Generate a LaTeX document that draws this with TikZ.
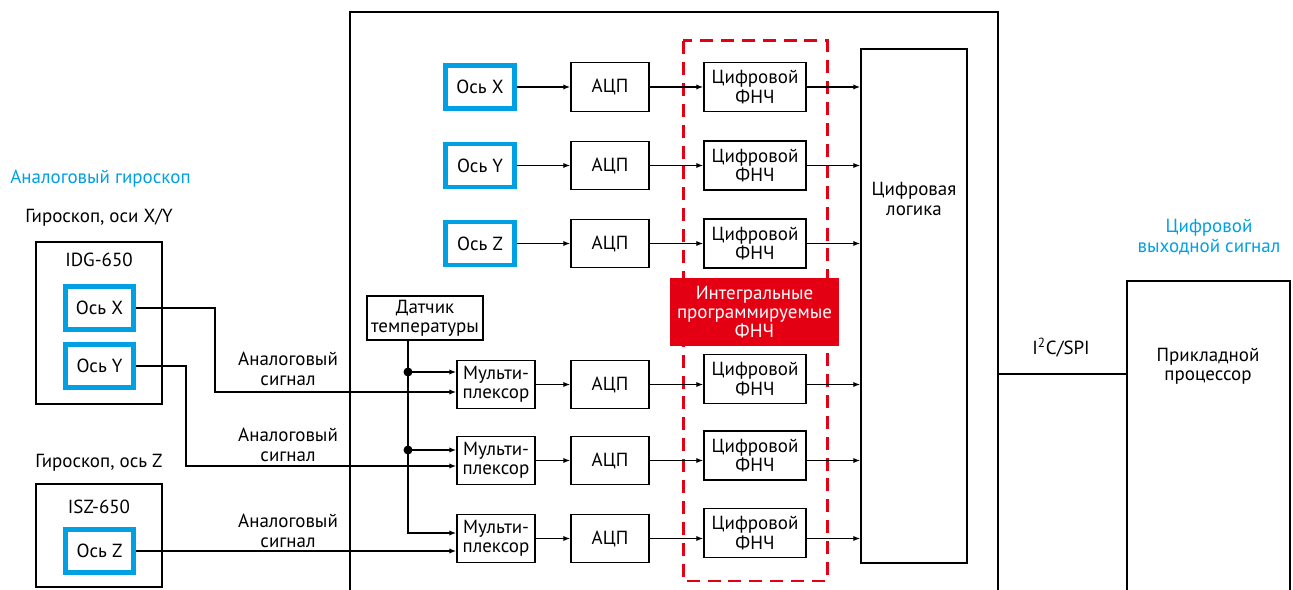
\documentclass[tikz,border=0pt]{standalone}
\usepackage{fontspec}
\setmainfont{PT Sans}
\usetikzlibrary{arrows.meta}
\definecolor{gyroblue}{RGB}{0,160,227}
\definecolor{lpfred}{RGB}{228,0,18}

\begin{document}
\begin{tikzpicture}[x=0.02cm, y=-0.02cm,
  font=\fontsize{10.8}{11}\selectfont,
  wire/.style={line width=0.75pt},
  sig/.style={wire, -{Latex[length=4pt,width=3pt]}},
  block/.style={draw, line width=0.8pt, align=center, inner sep=0pt},
  axisbox/.style={draw=gyroblue, line width=2.8pt, minimum width=1.37cm, minimum height=0.86cm, inner sep=0pt},
  adcbox/.style={block, minimum width=1.56cm, minimum height=0.97cm},
  lpfbox/.style={block, minimum width=2.04cm, minimum height=0.98cm},
  bluetext/.style={text=gyroblue, align=center}]

\useasboundingbox (0,0) rectangle (1293,590);

%chip outline and application processor, both run past the lower edge
\draw [line width=0.85pt] (350,600) -- (350,12) -- (998,12) -- (998,600);
\draw [line width=0.85pt] (1127,600) -- (1127,281) -- (1290,281) -- (1290,600);

%red dashed frame round the filters
\draw [lpfred, line width=1.7pt, dash pattern=on 7.4pt off 4.5pt] (683,41) rectangle (827,581);
\node [fill=lpfred, text=white, align=center, minimum width=3.38cm, minimum height=1.36cm, inner sep=0pt] (lpflabel) at (754.5,312) {Интегральные\\программируемые\\ФНЧ};

%analog gyroscopes
\node [bluetext, anchor=west, inner xsep=0pt] (anagyro) at (10,179) {Аналоговый гироскоп};
\node (xygyro) at (99,218) {Гироскоп, оси X/Y};
\node [draw, wire, minimum width=2.52cm, minimum height=3.24cm] (idg) at (99,323) {};
\node (idgname) at (99,260) {IDG-650};
\node [axisbox] (gX) at (99.5,308) {Ось X};
\node [axisbox] (gY) at (99.5,366) {Ось Y};
\node (zgyro) at (99,463) {Гироскоп, ось Z};
\node [draw, wire, minimum width=2.52cm, minimum height=2.06cm] (isz) at (99,535.5) {};
\node (iszname) at (99,507) {ISZ-650};
\node [axisbox] (gZ) at (99.5,551) {Ось Z};

\foreach \y [count=\i] in {369,445,531}
  \node [align=center] (anasig\i) at (288,\y) {Аналоговый\\сигнал};

%digital gyroscope rows
\foreach \ax/\y [count=\i] in {X/87,Y/165.5,Z/243.5} {
  \node [axisbox] (ax\i) at (480,\y) {Ось \ax};
  \node [adcbox] (adc\i) at (610,\y) {АЦП};
  \node [lpfbox] (lpf\i) at (755,\y) {Цифровой\\ФНЧ};
  \draw [sig] (ax\i) -- (adc\i);
}

%multiplexed rows
\foreach \y/\fy [count=\i from 4] in {384.5/379,460.5/455.5,538.5/533} {
  \node [adcbox] (mux\i) at (496,\y) {Мульти-\\плексор};
  \node [adcbox] (adc\i) at (610,\y) {АЦП};
  \node [lpfbox] (lpf\i) at (755,\fy) {Цифровой\\ФНЧ};
  \draw [sig] (mux\i) -- (adc\i);
}

\node [block, minimum width=2.12cm, minimum height=10.28cm] (logic) at (914,306) {};
\node [align=center] (logictext) at (914,199) {Цифровая\\логика};

\foreach \i in {1,...,6} {
  \draw [sig] (adc\i.east) -- (adc\i.east -| lpf\i.west);
  \draw [sig] (lpf\i.east |- adc\i.east) -- (adc\i.east -| logic.west);
}

%temperature sensor
\node [block, minimum width=2.32cm, minimum height=0.88cm] (temp) at (425,318) {Датчик\\температуры};
\coordinate (tap4) at (408,372);
\coordinate (tap5) at (408,450);
\coordinate (tap6) at (408,533);
\draw [sig] (temp.south -| tap4) |- (tap6 -| mux6.west);
\foreach \i in {4,5} {
  \draw [sig] (tap\i) -- (tap\i -| mux\i.west);
  \fill (tap\i) circle (4.5);
}

%analog signals into the multiplexers
\coordinate (bendX) at (215,392);
\coordinate (bendY) at (186,466);
\draw [sig] (gX.east) -| (bendX) -- (bendX -| mux4.west);
\draw [sig] (gY.east) -| (bendY) -- (bendY -| mux5.west);
\draw [sig] (gZ.east) -- (gZ.east -| mux6.west);

%output bus
\node [bluetext] (outsig) at (1209,237) {Цифровой\\выходной сигнал};
\node (bus) at (1061,348) {I\textsuperscript{2}C/SPI};
\node [align=center] (proctext) at (1208,366.5) {Прикладной\\процессор};
\coordinate (chipout) at (998,374);
\coordinate (procin) at (1127,374);
\draw [wire] (chipout) -- (procin);

\end{tikzpicture}
\end{document}
